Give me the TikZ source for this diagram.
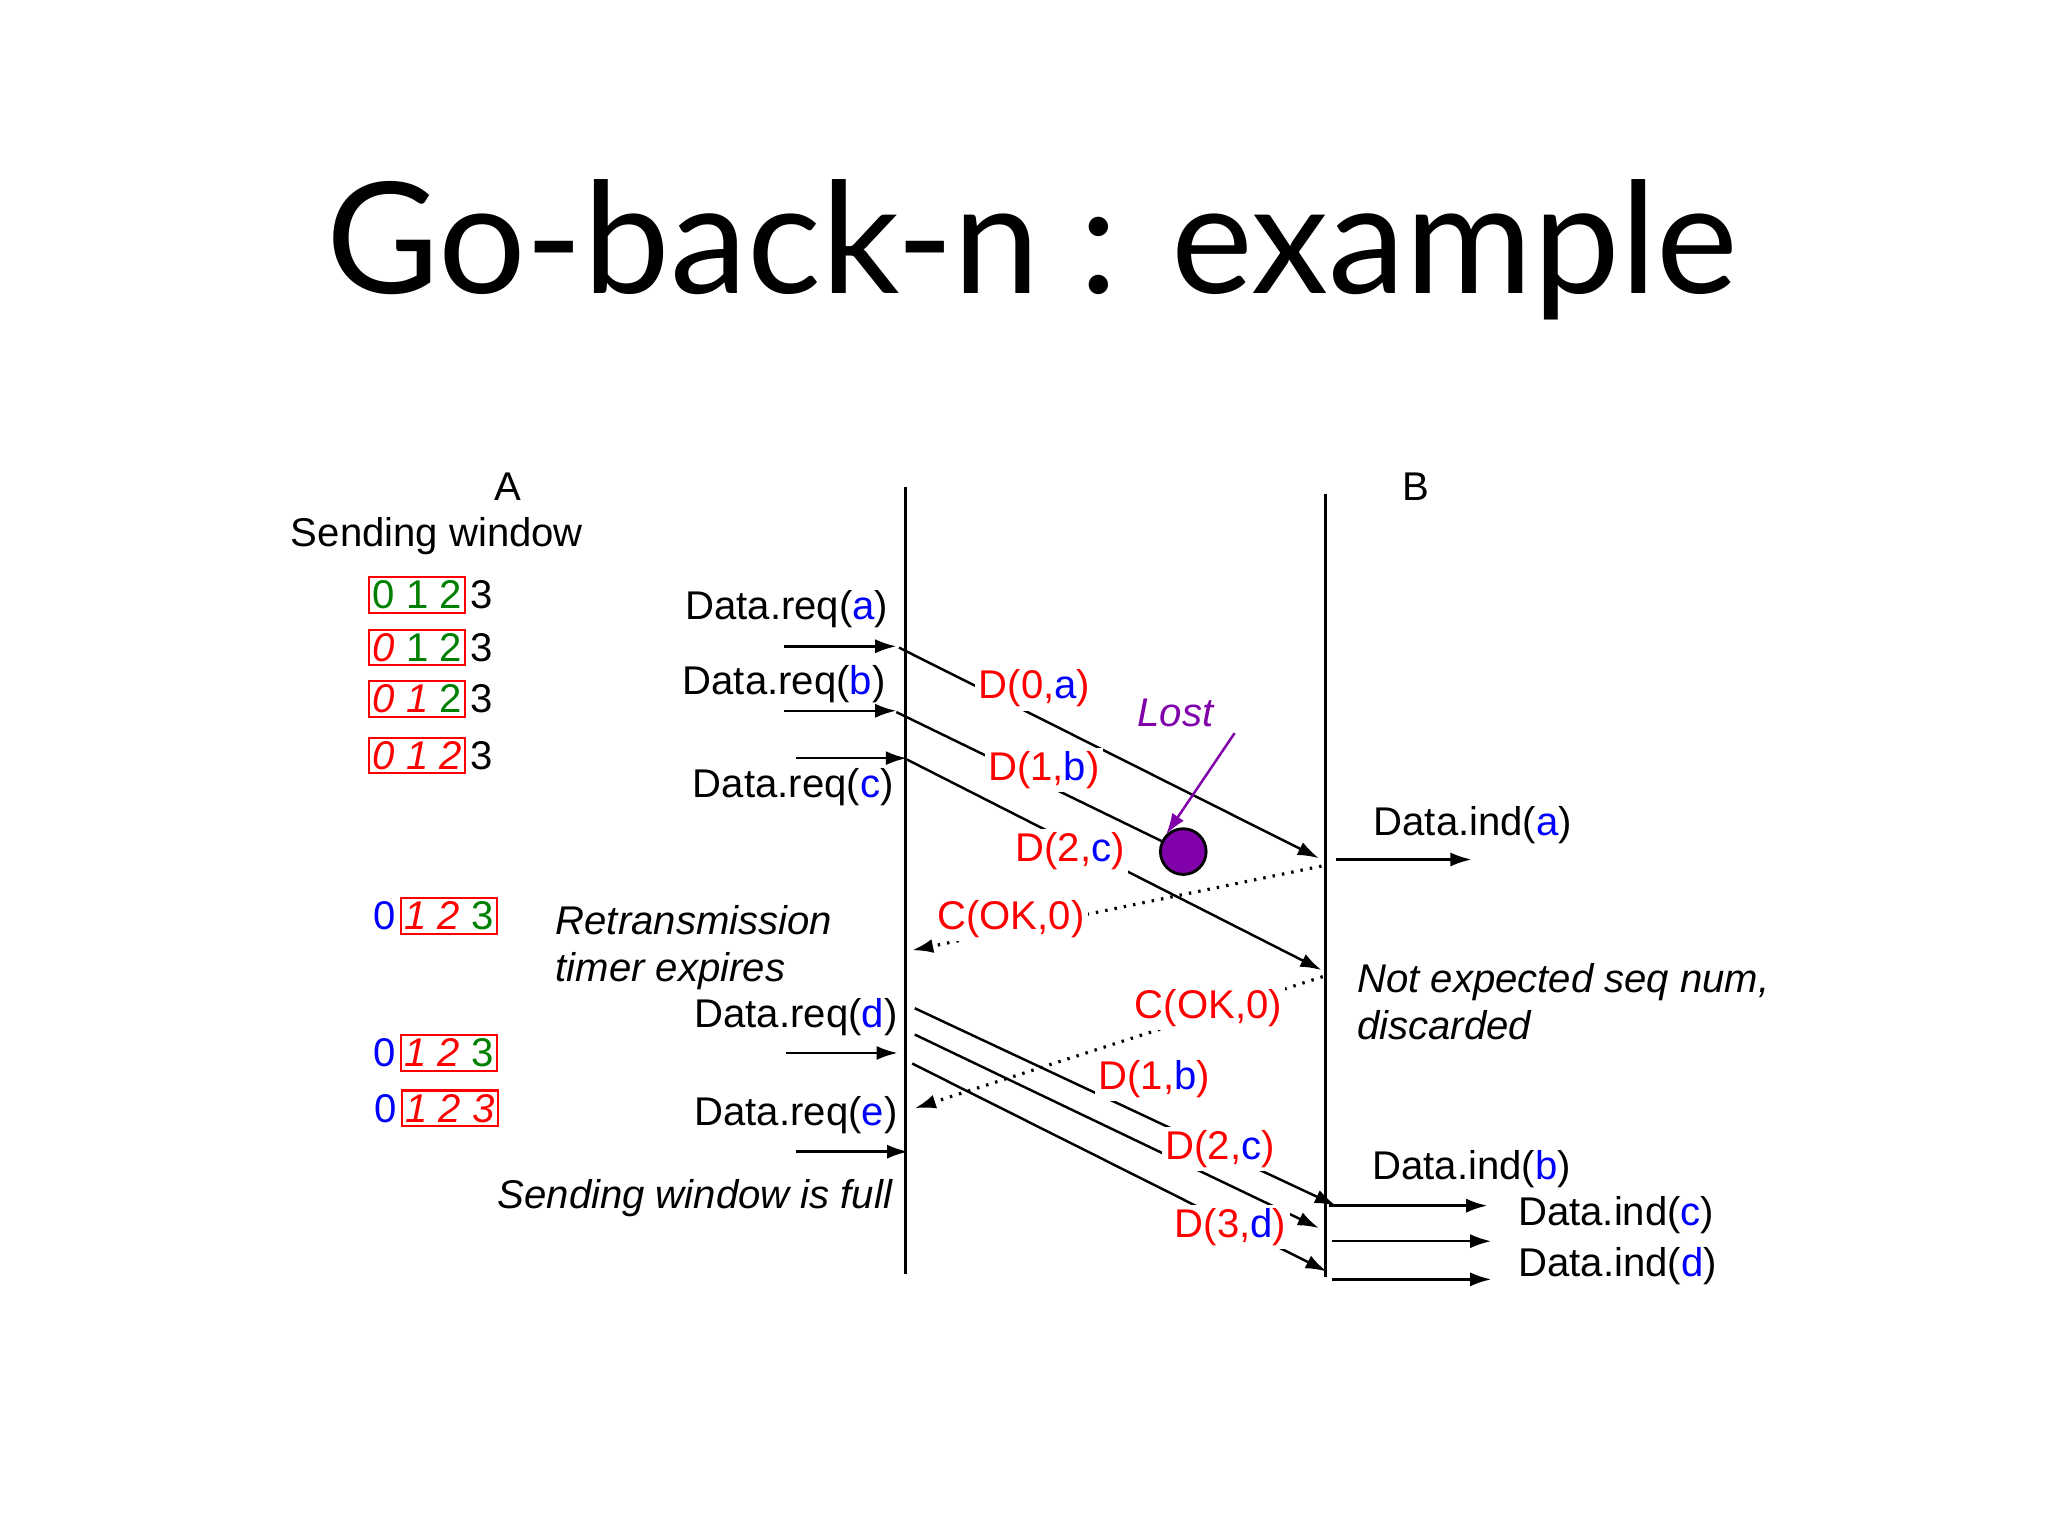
\documentclass[tikz,border=0pt]{standalone}
\usepackage{fontspec}
\setmainfont{Liberation Sans}
\newfontfamily\titlefont{Lato}
\usetikzlibrary{arrows.meta}
\definecolor{gr}{RGB}{0,128,0}
\definecolor{pu}{RGB}{128,0,170}
\newcommand{\bl}[1]{\textcolor{blue}{#1}}
\newcommand{\rd}[1]{\textcolor{red}{\itshape #1}}
\newcommand{\gn}[1]{\textcolor{gr}{#1}}
\newcommand{\fs}{\fontsize{11.4}{13.4}\selectfont}
\begin{document}
\begin{tikzpicture}[x=0.01316cm,y=-0.01316cm,
  txt/.style={font=\fs,inner sep=1pt},
  itx/.style={txt,font=\fs\itshape},
  lab/.style={txt,text=red,fill=white,inner sep=1pt},
  msg/.style={-{Latex[length=6pt,width=4pt]},line width=0.7pt},
  ack/.style={msg,dotted,line width=0.9pt},
  win/.style={draw=red,line width=0.6pt,inner sep=2pt,txt}]
\useasboundingbox (0,0) rectangle (1556,1168);
\node (title) at (784,190) {\titlefont\fontsize{44}{52}\selectfont Go-back-n : example};
\node[txt] (A) at (386,370) {A};
\node[txt] (B) at (1076,370) {B};
\node[txt] (sw) at (332,407) {Sending window};
\coordinate (a0) at (688,370); \coordinate (a1) at (688,968);
\coordinate (b0) at (1007,375); \coordinate (b1) at (1007,970);
\draw[line width=0.7pt] (a0)--(a1) (b0)--(b1);
% windows
\node[win] (w1) at (317,452) {\gn{0 1 2}}; \node[txt,anchor=west] (w1x) at (w1.east) {3};
\node[win] (w2) at (317,492) {\rd{0} \gn{1 2}}; \node[txt,anchor=west] (w2x) at (w2.east) {3};
\node[win] (w3) at (317,531) {\rd{0 1} \gn{2}}; \node[txt,anchor=west] (w3x) at (w3.east) {3};
\node[win] (w4) at (317,574) {\rd{0 1 2}}; \node[txt,anchor=west] (w4x) at (w4.east) {3};
\node[win] (w5) at (341,696) {\rd{1 2} \gn{3}}; \node[txt,anchor=east,text=blue] (w5x) at (w5.west) {0};
\node[win] (w6) at (341,800) {\rd{1 2} \gn{3}}; \node[txt,anchor=east,text=blue] (w6x) at (w6.west) {0};
\node[win] (w7) at (342,842) {\rd{1 2 3}}; \node[txt,anchor=east,text=blue] (w7x) at (w7.west) {0};
% requests
\node[txt,anchor=east] (ra) at (678,463) {Data.req(\bl{a})};
\node[txt,anchor=east] (rb) at (676,520) {Data.req(\bl{b})};
\node[txt,anchor=east] (rc) at (682,598) {Data.req(\bl{c})};
\node[txt,anchor=east] (rd) at (685,773) {Data.req(\bl{d})};
\node[txt,anchor=east] (re) at (685,847) {Data.req(\bl{e})};
\coordinate (pa0) at (596,491); \coordinate (pa1) at (681,491);
\coordinate (pb0) at (596,540); \coordinate (pb1) at (681,540);
\coordinate (pc0) at (605,576); \coordinate (pc1) at (689,576);
\coordinate (pd0) at (597,800); \coordinate (pd1) at (682,800);
\coordinate (pe0) at (605,875); \coordinate (pe1) at (690,875);
\foreach \p in {a,b,c,d,e} \draw[msg] (p\p0)--(p\p1);
% data messages
\coordinate (m1s) at (683,492); \coordinate (m1e) at (1002,652);
\coordinate (m2s) at (681,541); \node[circle,draw,fill=pu,line width=0.8pt,minimum size=13pt,inner sep=0] (lost) at (899,647) {};
\coordinate (m3s) at (689,577); \coordinate (m3e) at (1004,737);
\draw[msg] (m1s)--(m1e);
\draw[line width=0.7pt] (m2s)--(lost);
\draw[msg] (m3s)--(m3e);
\node[lab] (l1) at (786,523) {D(0,\bl{a})};
\node[lab] (l2) at (793,585) {D(1,\bl{b})};
\node[lab] (l3) at (813,647) {D(2,\bl{c})};
\node[itx,text=pu] (lostl) at (893,542) {Lost};
\coordinate (lt) at (938,557);
\draw[pu,-{Latex[length=6pt,width=4pt]},line width=0.7pt] (lt)--(lost.north west);
% ind a
\node[txt] (ia) at (1119,627) {Data.ind(\bl{a})};
\coordinate (ia0) at (1015,653); \coordinate (ia1) at (1118,653);
\draw[msg] (ia0)--(ia1);
% ack 1
\coordinate (c1s) at (1004,658); \coordinate (c1e) at (693,722);
\draw[ack] (c1s)--(c1e);
\node[lab] (c1l) at (768,698) {C(OK,0)};
\node[itx,anchor=west,align=left] (rt) at (419,720) {Retransmission\\timer expires};
\node[itx,anchor=west,align=left] (ne) at (1028,761) {Not expected seq num,\\discarded};
% ack 2
\coordinate (c2s) at (1005,742); \coordinate (c2e) at (695,842);
\draw[ack] (c2s)--(c2e);
\node[lab] (c2l) at (918,766) {C(OK,0)};
\node[itx] (full) at (528,910) {Sending window is full};
% retransmissions
\coordinate (r1s) at (695,766); \coordinate (r1e) at (1015,916);
\coordinate (r2s) at (695,786); \coordinate (r2e) at (1002,933);
\coordinate (r3s) at (693,808); \coordinate (r3e) at (1008,966);
\draw[msg] (r1s)--(r1e); \draw[msg] (r2s)--(r2e); \draw[msg] (r3s)--(r3e);
\node[lab] (r1l) at (877,820) {D(1,\bl{b})};
\node[lab] (r2l) at (927,873) {D(2,\bl{c})};
\node[lab] (r3l) at (935,932) {D(3,\bl{d})};
% indications
\node[txt] (ib) at (1118,888) {Data.ind(\bl{b})};
\node[txt] (ic) at (1228,923) {Data.ind(\bl{c})};
\node[txt] (id) at (1229,962) {Data.ind(\bl{d})};
\coordinate (ib0) at (1010,916); \coordinate (ib1) at (1130,916);
\coordinate (ic0) at (1012,943); \coordinate (ic1) at (1133,943);
\coordinate (id0) at (1012,972); \coordinate (id1) at (1133,972);
\draw[msg] (ib0)--(ib1); \draw[msg] (ic0)--(ic1); \draw[msg] (id0)--(id1);
\end{tikzpicture}
\end{document}
